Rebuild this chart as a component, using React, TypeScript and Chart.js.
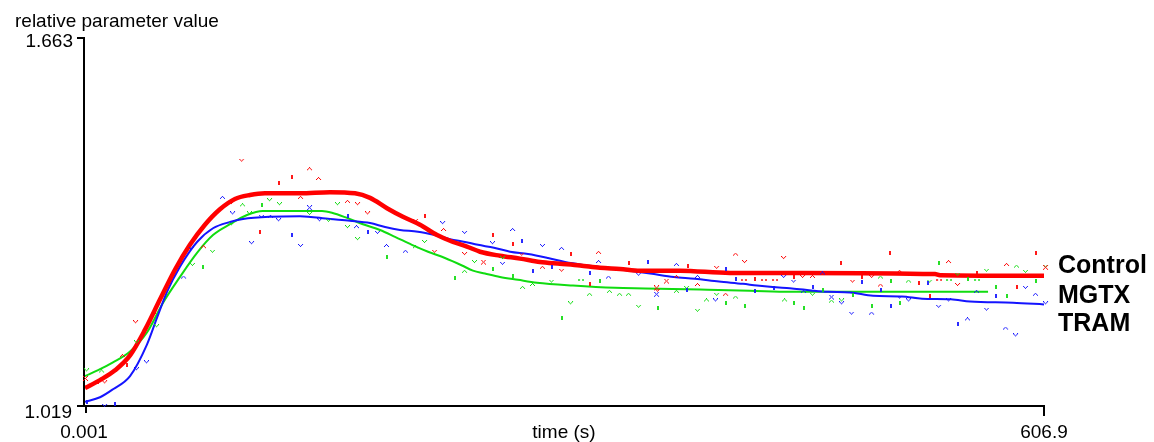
import React, { useEffect, useRef } from 'react';
import { Chart, registerables } from 'chart.js';

Chart.register(...registerables);

// ---------- axes / labels ----------
const X_MIN = 0.001;
const X_MAX = 606.9;
const Y_MIN = 1.019;
const Y_MAX = 1.663;
const xTickLabels = ['0.001', '606.9'];
const yTickLabels = ['1.019', '1.663'];
const xTitle = 'time (s)';
const yTitle = 'relative parameter value';
const seriesNames = ['Control', 'MGTX', 'TRAM'];

// ---------- fitted curves ----------
const controlFitT = [0.001, 9.5, 19.0, 28.5, 38.0, 47.5, 57.0, 66.4, 75.9, 85.4, 94.9, 104.4, 113.9, 136.1, 155.0, 170.9, 180.4, 191.1, 201.2, 212.0, 222.8, 232.9, 241.7, 250.0, 262.6, 275.3, 287.9, 300.6, 313.3, 325.9, 338.6, 351.2, 376.5, 408.2, 452.5, 537.9, 541.1, 606.9];
const controlFitV = [1.052, 1.066, 1.083, 1.109, 1.154, 1.207, 1.259, 1.302, 1.337, 1.364, 1.382, 1.389, 1.392, 1.392, 1.394, 1.392, 1.384, 1.366, 1.351, 1.337, 1.319, 1.307, 1.299, 1.290, 1.283, 1.278, 1.272, 1.269, 1.266, 1.262, 1.260, 1.257, 1.257, 1.253, 1.253, 1.251, 1.249, 1.248];

const tramFitT = [0.001, 9.5, 17.7, 28.5, 39.2, 45.6, 51.9, 60.1, 70.9, 81.0, 91.8, 100.0, 117.1, 136.1, 155.0, 167.7, 180.4, 189.9, 199.3, 210.7, 221.5, 231.0, 240.5, 248.7, 258.8, 269.0, 280.4, 293.0, 303.8, 315.2, 331.0, 343.6, 357.6, 372.7, 386.0, 401.2, 416.4, 425.3, 441.1, 447.4, 460.7, 470.2, 484.1, 498.7, 517.0, 529.7, 548.0, 560.1, 587.3, 606.9];
const tramFitV = [1.028, 1.036, 1.050, 1.073, 1.128, 1.175, 1.220, 1.264, 1.307, 1.331, 1.342, 1.347, 1.351, 1.352, 1.347, 1.344, 1.340, 1.333, 1.328, 1.325, 1.319, 1.312, 1.307, 1.302, 1.297, 1.290, 1.286, 1.279, 1.272, 1.267, 1.262, 1.257, 1.252, 1.246, 1.243, 1.238, 1.234, 1.231, 1.227, 1.226, 1.222, 1.220, 1.219, 1.213, 1.212, 1.208, 1.207, 1.203, 1.201, 1.198];

const mgtxFitT = [0.001, 9.5, 17.7, 28.5, 39.2, 49.4, 60.1, 70.9, 81.0, 91.8, 102.5, 112.6, 136.1, 150.0, 156.3, 165.8, 175.9, 186.7, 196.2, 206.9, 217.1, 227.8, 238.6, 245.5, 253.1, 262.6, 274.0, 286.0, 308.8, 335.4, 354.4, 389.2, 420.8, 446.2, 571.5];
const mgtxFitV = [1.073, 1.085, 1.097, 1.116, 1.149, 1.201, 1.246, 1.288, 1.319, 1.338, 1.354, 1.361, 1.361, 1.361, 1.358, 1.349, 1.338, 1.328, 1.316, 1.302, 1.290, 1.279, 1.266, 1.257, 1.252, 1.246, 1.241, 1.236, 1.231, 1.227, 1.226, 1.224, 1.222, 1.220, 1.220];

// ---------- observations (marker kinds: v, ^, |, x, d) ----------
const controlObsT = [99.4, 122.8, 93.0, 75.3, 110.7, 32.3, 44.3, 24.0, 26.6, 12.7, 0.6, 8.2, 142.4, 148.1, 131.0, 136.7, 166.4, 172.8, 179.1, 215.2, 209.5, 227.2, 221.5, 240.5, 258.2, 270.9, 252.5, 276.6, 289.8, 301.9, 307.6, 325.3, 319.6, 344.3, 362.6, 381.6, 412.0, 417.7, 400.0, 442.4, 478.4, 368.3, 374.6, 387.9, 405.7, 362.0, 417.0, 429.7, 436.7, 424.0, 448.7, 454.4, 460.7, 509.4, 486.0, 491.7, 498.1, 503.7, 515.8, 527.8, 534.8, 540.5, 546.8, 552.5, 564.5, 589.8, 583.5, 601.8, 608.2];
const controlObsV = [1.449, 1.410, 1.375, 1.298, 1.325, 1.167, 1.184, 1.108, 1.092, 1.062, 1.068, 1.062, 1.434, 1.417, 1.420, 1.384, 1.377, 1.373, 1.357, 1.352, 1.344, 1.328, 1.290, 1.286, 1.319, 1.304, 1.271, 1.285, 1.262, 1.257, 1.286, 1.288, 1.234, 1.271, 1.222, 1.265, 1.285, 1.272, 1.262, 1.279, 1.271, 1.238, 1.246, 1.232, 1.215, 1.226, 1.241, 1.241, 1.241, 1.243, 1.246, 1.246, 1.246, 1.288, 1.238, 1.246, 1.246, 1.231, 1.255, 1.236, 1.212, 1.241, 1.272, 1.232, 1.252, 1.229, 1.267, 1.288, 1.262];
const controlObsM = 'v|v^|v|^|vx|^^|^^vv|v^vv||xv^v|^||v|^vvv|x^^^xddd||v^|v|v^^||d^v||^|x'.split('');

const tramObsT = [87.3, 93.7, 112.0, 117.7, 122.8, 105.7, 67.7, 62.7, 39.2, 32.9, 12.7, 19.0, 1.3, 142.4, 148.7, 131.0, 136.7, 166.4, 172.1, 179.1, 185.4, 191.1, 203.1, 226.6, 240.5, 270.9, 258.2, 276.6, 264.5, 289.8, 301.9, 283.5, 295.5, 319.6, 325.3, 331.6, 356.3, 350.6, 362.0, 374.6, 387.9, 381.0, 399.3, 405.7, 412.0, 424.0, 442.4, 448.7, 460.7, 467.0, 472.7, 479.1, 436.0, 455.0, 485.4, 491.7, 498.1, 503.7, 510.1, 515.8, 521.5, 533.5, 540.5, 546.8, 552.5, 558.8, 564.5, 570.8, 576.5, 582.9, 589.2, 595.5, 601.8, 608.2];
const tramObsV = [1.384, 1.357, 1.351, 1.351, 1.345, 1.305, 1.295, 1.245, 1.097, 1.085, 1.021, 1.024, 1.028, 1.366, 1.345, 1.319, 1.300, 1.352, 1.333, 1.325, 1.323, 1.300, 1.290, 1.340, 1.323, 1.328, 1.305, 1.309, 1.269, 1.300, 1.295, 1.257, 1.264, 1.253, 1.272, 1.245, 1.272, 1.250, 1.215, 1.267, 1.246, 1.224, 1.205, 1.259, 1.243, 1.222, 1.246, 1.238, 1.229, 1.252, 1.210, 1.200, 1.227, 1.220, 1.182, 1.238, 1.182, 1.224, 1.196, 1.210, 1.205, 1.236, 1.194, 1.205, 1.163, 1.172, 1.220, 1.189, 1.212, 1.156, 1.144, 1.227, 1.215, 1.200];
const tramObsM = '^vv^vvv^vvv||xv|v|^|v^^vv^v|vv^|||^^|vx^^|v|||vv|^xv|^v|^||vv|vv|^^v|^vv^v'.split('');

const mgtxObsT = [100.0, 117.1, 104.4, 112.0, 93.0, 81.0, 74.7, 68.3, 45.6, 32.9, 1.3, 10.8, 123.4, 142.4, 160.1, 154.4, 166.4, 172.8, 191.1, 209.5, 215.2, 234.2, 246.8, 240.5, 258.2, 264.5, 270.9, 277.2, 283.5, 295.5, 307.6, 301.9, 313.9, 319.6, 325.9, 332.2, 338.6, 344.3, 350.6, 362.6, 374.6, 381.0, 387.9, 393.6, 400.0, 405.7, 412.0, 417.7, 443.0, 448.7, 455.0, 460.7, 467.0, 472.7, 479.1, 486.0, 498.1, 503.7, 510.1, 515.8, 521.5, 534.8, 540.5, 546.8, 552.5, 558.8, 564.5, 570.8, 576.5, 583.5, 589.8, 595.5, 601.8, 608.2];
const mgtxObsV = [1.371, 1.380, 1.357, 1.371, 1.338, 1.290, 1.264, 1.267, 1.160, 1.132, 1.083, 1.081, 1.373, 1.356, 1.373, 1.344, 1.333, 1.312, 1.281, 1.298, 1.307, 1.245, 1.272, 1.255, 1.260, 1.279, 1.248, 1.227, 1.232, 1.238, 1.200, 1.175, 1.241, 1.215, 1.239, 1.220, 1.215, 1.215, 1.194, 1.191, 1.220, 1.227, 1.187, 1.205, 1.215, 1.201, 1.210, 1.196, 1.205, 1.201, 1.191, 1.215, 1.224, 1.203, 1.205, 1.215, 1.196, 1.245, 1.239, 1.201, 1.238, 1.238, 1.271, 1.241, 1.250, 1.243, 1.241, 1.257, 1.229, 1.213, 1.264, 1.255, 1.239, 1.264];
const mgtxObsM = '^vv|vv|vvvv^vvvvvv|^v|v^|v|^^vv|d^|^^^v|^vv^v|^|^||v|^v||^||^v|dv|dv||^v|v'.split('');

// ---------- colours ----------
const RED = '#ff0000';
const GREEN = '#10dc10';
const BLUE = '#1414ff';

function makeMarkers(color: string) {
  const shapes: Record<string, { w: number; h: number; px: number[][]; a: number }> = {
    v: { w: 6, h: 4, px: [[0, 0], [4, 0], [1, 1], [3, 1], [2, 2]], a: 1 },
    '^': { w: 6, h: 4, px: [[2, 0], [1, 1], [3, 1], [0, 2], [4, 2]], a: 1 },
    x: { w: 6, h: 6, px: [[0, 0], [4, 0], [1, 1], [3, 1], [2, 2], [1, 3], [3, 3], [0, 4], [4, 4]], a: 1 },
    '|': { w: 2, h: 4, px: [[0, 0], [0, 1], [0, 2], [0, 3], [1, 0], [1, 1], [1, 2], [1, 3]], a: 0.9 },
    d: { w: 6, h: 2, px: [[0, 0], [1, 0], [0, 1], [1, 1], [4, 0], [5, 0], [4, 1], [5, 1]], a: 0.7 },
  };
  const out: Record<string, HTMLCanvasElement> = {};
  for (const k of Object.keys(shapes)) {
    const s = shapes[k];
    const c = document.createElement('canvas');
    c.width = s.w;
    c.height = s.h;
    const g = c.getContext('2d')!;
    g.globalAlpha = s.a;
    g.fillStyle = color;
    for (const [x, y] of s.px) g.fillRect(x, y, 1, 1);
    out[k] = c;
  }
  return out;
}

const FONT = '"Liberation Sans", Arial, sans-serif';

const decoPlugin = {
  id: 'deco',
  beforeDatasetsDraw(chart: any) {
    const { ctx, scales } = chart;
    const xs = scales.x;
    const ys = scales.y;
    const left = Math.round(xs.getPixelForValue(X_MIN)) - 1;
    const right = Math.round(xs.getPixelForValue(X_MAX));
    const top = Math.round(ys.getPixelForValue(Y_MAX));
    const bottom = Math.round(ys.getPixelForValue(Y_MIN)) - 1;
    ctx.save();
    ctx.strokeStyle = '#000';
    ctx.lineWidth = 2;
    ctx.beginPath();
    ctx.moveTo(left - 7, top);
    ctx.lineTo(left, top);
    ctx.lineTo(left, bottom);
    ctx.moveTo(left - 7, bottom);
    ctx.lineTo(right, bottom);
    ctx.lineTo(right, bottom + 10);
    ctx.moveTo(left + 2, bottom);
    ctx.lineTo(left + 2, bottom + 7);
    ctx.stroke();
    ctx.restore();
  },
  afterDraw(chart: any) {
    const { ctx, scales } = chart;
    const xs = scales.x;
    const ys = scales.y;
    const left = Math.round(xs.getPixelForValue(X_MIN)) - 1;
    const right = Math.round(xs.getPixelForValue(X_MAX));
    const top = Math.round(ys.getPixelForValue(Y_MAX));
    const bottom = Math.round(ys.getPixelForValue(Y_MIN)) - 1;
    ctx.save();
    ctx.fillStyle = '#000';
    ctx.font = `19px ${FONT}`;
    ctx.textBaseline = 'alphabetic';
    ctx.textAlign = 'left';
    ctx.fillText(yTitle, 15, 27);
    ctx.textAlign = 'right';
    ctx.fillText(yTickLabels[1], left - 11, top + 9);
    ctx.fillText(yTickLabels[0], left - 12, bottom + 12);
    ctx.textAlign = 'center';
    ctx.fillText(xTickLabels[0], left, 438);
    ctx.fillText(xTickLabels[1], right, 438);
    ctx.fillText(xTitle, (left + right) / 2, 438);
    ctx.font = `bold 25px ${FONT}`;
    ctx.textAlign = 'left';
    ctx.textBaseline = 'middle';
    const ys2 = [266, 296, 324];
    seriesNames.forEach((n, i) => ctx.fillText(n, 1058, ys2[i]));
    ctx.restore();
  },
};

export default function App() {
  const ref = useRef<HTMLCanvasElement>(null);

  useEffect(() => {
    const canvas = ref.current!;
    const mk = {
      red: makeMarkers(RED),
      green: makeMarkers(GREEN),
      blue: makeMarkers(BLUE),
    };
    const toXY = (T: number[], V: number[]) => T.map((t, i) => ({ x: t, y: V[i] }));
    const obs = (T: number[], V: number[], M: string[], imgs: Record<string, HTMLCanvasElement>) => ({
      type: 'line' as const,
      data: toXY(T, V),
      showLine: false,
      pointRadius: 2,
      pointStyle: (c: any) => (c.dataIndex !== undefined ? imgs[M[c.dataIndex]] || 'circle' : 'circle'),
      clip: false as any,
    });
    const fit = (T: number[], V: number[], color: string, width: number) => ({
      type: 'line' as const,
      data: toXY(T, V),
      borderColor: color,
      borderWidth: width,
      pointRadius: 0,
      fill: false,
      cubicInterpolationMode: 'monotone' as const,
    });

    const chart = new Chart(canvas, {
      type: 'line',
      data: {
        datasets: [
          obs(controlObsT, controlObsV, controlObsM, mk.red),
          obs(tramObsT, tramObsV, tramObsM, mk.blue),
          obs(mgtxObsT, mgtxObsV, mgtxObsM, mk.green),
          fit(controlFitT, controlFitV, RED, 4.5),
          fit(tramFitT, tramFitV, BLUE, 2),
          fit(mgtxFitT, mgtxFitV, GREEN, 2),
        ] as any,
      },
      options: {
        responsive: false,
        animation: false,
        devicePixelRatio: 1,
        events: [],
        layout: { padding: { left: 85, right: 110, top: 38, bottom: 35 } },
        plugins: { legend: { display: false }, tooltip: { enabled: false }, title: { display: false } },
        scales: {
          x: { type: 'linear', min: X_MIN, max: X_MAX, display: false },
          y: { type: 'linear', min: Y_MIN, max: Y_MAX, display: false },
        },
      },
      plugins: [decoPlugin],
    });
    return () => chart.destroy();
  }, []);

  return (
    <div style={{ position: 'absolute', left: 0, top: 0, width: 1154, height: 442, background: '#fff' }}>
      <canvas ref={ref} width={1154} height={442} style={{ display: 'block', width: 1154, height: 442 }} />
    </div>
  );
}
